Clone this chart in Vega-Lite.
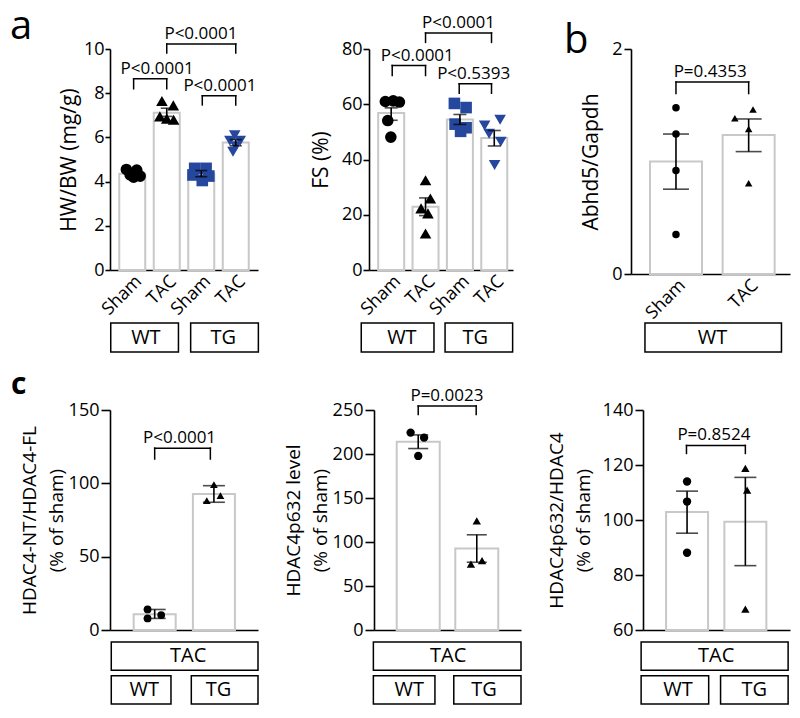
{
"$schema": "https://vega.github.io/schema/vega-lite/v6.json",
"padding": {"left": 10, "top": 6, "right": 5, "bottom": 5},
"config": {
  "font": "Open Sans",
  "view": {"stroke": null},
  "axis": {"labelFont": "Open Sans", "titleFont": "Open Sans", "labelFontSize": 18, "titleFontSize": 19, "titleFontWeight": "normal", "labelColor": "black", "titleColor": "black", "domainColor": "black", "tickColor": "black", "domainWidth": 1.6, "tickWidth": 1.6, "grid": false},
  "title": {"font": "Open Sans", "fontWeight": "normal", "color": "black"},
  "text": {"font": "Open Sans", "color": "black"}
},
"datasets": {
  "bars": [
    {"p": "a1", "x": 1, "mean": 4.36, "lo": 4.27, "hi": 4.45},
    {"p": "a1", "x": 2, "mean": 7.12, "lo": 6.95, "hi": 7.32},
    {"p": "a1", "x": 3, "mean": 4.36, "lo": 4.22, "hi": 4.5},
    {"p": "a1", "x": 4, "mean": 5.77, "lo": 5.62, "hi": 5.9},
    {"p": "a2", "x": 1, "mean": 56.8, "lo": 54.2, "hi": 58.7},
    {"p": "a2", "x": 2, "mean": 22.9, "lo": 19.7, "hi": 26.1},
    {"p": "a2", "x": 3, "mean": 54.5, "lo": 52.7, "hi": 56.3},
    {"p": "a2", "x": 4, "mean": 47.8, "lo": 44.9, "hi": 50.5},
    {"p": "b", "x": 1, "mean": 1.0, "lo": 0.754, "hi": 1.244},
    {"p": "b", "x": 2, "mean": 1.235, "lo": 1.088, "hi": 1.378},
    {"p": "c1", "x": 1, "mean": 10.7, "lo": 7.9, "hi": 14.0},
    {"p": "c1", "x": 2, "mean": 92.8, "lo": 87.1, "hi": 98.4},
    {"p": "c2", "x": 1, "mean": 214, "lo": 206.2, "hi": 221.7},
    {"p": "c2", "x": 2, "mean": 92.6, "lo": 77, "hi": 108.2},
    {"p": "c3", "x": 1, "mean": 102.9, "lo": 95.2, "hi": 110.5},
    {"p": "c3", "x": 2, "mean": 99.4, "lo": 83.4, "hi": 115.5}
  ],
  "pts": [
    {"p": "a1", "g": "WT Sham", "geno": "WT", "x": 0.83, "v": 4.55},
    {"p": "a1", "g": "WT Sham", "geno": "WT", "x": 1.13, "v": 4.52},
    {"p": "a1", "g": "WT Sham", "geno": "WT", "x": 0.94, "v": 4.3},
    {"p": "a1", "g": "WT Sham", "geno": "WT", "x": 1.04, "v": 4.2},
    {"p": "a1", "g": "WT Sham", "geno": "WT", "x": 1.23, "v": 4.25},
    {"p": "a1", "g": "WT TAC", "geno": "WT", "x": 1.86, "v": 7.65},
    {"p": "a1", "g": "WT TAC", "geno": "WT", "x": 2.19, "v": 7.45},
    {"p": "a1", "g": "WT TAC", "geno": "WT", "x": 1.8, "v": 6.95},
    {"p": "a1", "g": "WT TAC", "geno": "WT", "x": 2.0, "v": 6.85},
    {"p": "a1", "g": "WT TAC", "geno": "WT", "x": 2.2, "v": 6.8},
    {"p": "a1", "g": "TG Sham", "geno": "TG", "x": 2.81, "v": 4.6},
    {"p": "a1", "g": "TG Sham", "geno": "TG", "x": 3.14, "v": 4.6},
    {"p": "a1", "g": "TG Sham", "geno": "TG", "x": 2.76, "v": 4.3},
    {"p": "a1", "g": "TG Sham", "geno": "TG", "x": 3.03, "v": 4.05},
    {"p": "a1", "g": "TG Sham", "geno": "TG", "x": 3.22, "v": 4.25},
    {"p": "a1", "g": "TG TAC", "geno": "TG", "x": 3.97, "v": 6.1},
    {"p": "a1", "g": "TG TAC", "geno": "TG", "x": 3.83, "v": 5.85},
    {"p": "a1", "g": "TG TAC", "geno": "TG", "x": 4.13, "v": 5.85},
    {"p": "a1", "g": "TG TAC", "geno": "TG", "x": 4.0, "v": 5.6},
    {"p": "a1", "g": "TG TAC", "geno": "TG", "x": 3.92, "v": 5.35},
    {"p": "a2", "g": "WT Sham", "geno": "WT", "x": 0.83, "v": 61},
    {"p": "a2", "g": "WT Sham", "geno": "WT", "x": 1.06, "v": 61.2},
    {"p": "a2", "g": "WT Sham", "geno": "WT", "x": 1.24, "v": 60.8},
    {"p": "a2", "g": "WT Sham", "geno": "WT", "x": 0.9, "v": 54.1},
    {"p": "a2", "g": "WT Sham", "geno": "WT", "x": 0.99, "v": 48.1},
    {"p": "a2", "g": "WT TAC", "geno": "WT", "x": 2.0, "v": 32.5},
    {"p": "a2", "g": "WT TAC", "geno": "WT", "x": 2.14, "v": 25.9},
    {"p": "a2", "g": "WT TAC", "geno": "WT", "x": 1.87, "v": 22.3},
    {"p": "a2", "g": "WT TAC", "geno": "WT", "x": 2.07, "v": 20.5},
    {"p": "a2", "g": "WT TAC", "geno": "WT", "x": 2.0, "v": 13.2},
    {"p": "a2", "g": "TG Sham", "geno": "TG", "x": 2.84, "v": 60.3},
    {"p": "a2", "g": "TG Sham", "geno": "TG", "x": 3.18, "v": 58.8},
    {"p": "a2", "g": "TG Sham", "geno": "TG", "x": 2.86, "v": 52.8},
    {"p": "a2", "g": "TG Sham", "geno": "TG", "x": 3.02, "v": 50.2},
    {"p": "a2", "g": "TG Sham", "geno": "TG", "x": 3.18, "v": 51.5},
    {"p": "a2", "g": "TG TAC", "geno": "TG", "x": 3.72, "v": 52.3},
    {"p": "a2", "g": "TG TAC", "geno": "TG", "x": 3.85, "v": 49.3},
    {"p": "a2", "g": "TG TAC", "geno": "TG", "x": 4.17, "v": 54.4},
    {"p": "a2", "g": "TG TAC", "geno": "TG", "x": 4.19, "v": 46.4},
    {"p": "a2", "g": "TG TAC", "geno": "TG", "x": 4.01, "v": 38},
    {"p": "b", "g": "WT Sham", "geno": "WT", "x": 1, "v": 1.477},
    {"p": "b", "g": "WT Sham", "geno": "WT", "x": 1, "v": 1.244},
    {"p": "b", "g": "WT Sham", "geno": "WT", "x": 1, "v": 0.921},
    {"p": "b", "g": "WT Sham", "geno": "WT", "x": 1, "v": 0.352},
    {"p": "b", "g": "WT TAC", "geno": "WT", "x": 1.81, "v": 1.384},
    {"p": "b", "g": "WT TAC", "geno": "WT", "x": 2.06, "v": 1.463},
    {"p": "b", "g": "WT TAC", "geno": "WT", "x": 2.0, "v": 1.288},
    {"p": "b", "g": "WT TAC", "geno": "WT", "x": 2.0, "v": 0.806},
    {"p": "c1", "g": "WT TAC", "geno": "WT", "x": 0.88, "v": 14},
    {"p": "c1", "g": "WT TAC", "geno": "WT", "x": 0.88, "v": 7.9},
    {"p": "c1", "g": "WT TAC", "geno": "WT", "x": 1.11, "v": 10.2},
    {"p": "c1", "g": "TG TAC", "geno": "TG", "x": 2.0, "v": 99.1},
    {"p": "c1", "g": "TG TAC", "geno": "TG", "x": 1.88, "v": 88.2},
    {"p": "c1", "g": "TG TAC", "geno": "TG", "x": 2.11, "v": 91.6},
    {"p": "c2", "g": "WT TAC", "geno": "WT", "x": 0.87, "v": 224.3},
    {"p": "c2", "g": "WT TAC", "geno": "WT", "x": 1.1, "v": 218.6},
    {"p": "c2", "g": "WT TAC", "geno": "WT", "x": 1.0, "v": 197.8},
    {"p": "c2", "g": "TG TAC", "geno": "TG", "x": 2.0, "v": 124},
    {"p": "c2", "g": "TG TAC", "geno": "TG", "x": 1.9, "v": 74.9},
    {"p": "c2", "g": "TG TAC", "geno": "TG", "x": 2.09, "v": 78.7},
    {"p": "c3", "g": "WT TAC", "geno": "WT", "x": 1.0, "v": 114},
    {"p": "c3", "g": "WT TAC", "geno": "WT", "x": 1.0, "v": 106.7},
    {"p": "c3", "g": "WT TAC", "geno": "WT", "x": 1.0, "v": 88.1},
    {"p": "c3", "g": "TG TAC", "geno": "TG", "x": 2.0, "v": 118.8},
    {"p": "c3", "g": "TG TAC", "geno": "TG", "x": 2.03, "v": 110.9},
    {"p": "c3", "g": "TG TAC", "geno": "TG", "x": 2.0, "v": 67.6}
  ],
  "brk": [
    {"p": "a1", "s": 1.04, "e": 2.0, "top": 8.65, "base": 8.2, "tx": 1.72, "label": "P<0.0001"},
    {"p": "a1", "s": 2.0, "e": 4.0, "top": 10.23, "base": 9.82, "tx": 2.99, "label": "P<0.0001"},
    {"p": "a1", "s": 3.03, "e": 4.0, "top": 7.88, "base": 7.47, "tx": 3.54, "label": "P<0.0001"},
    {"p": "a2", "s": 1.03, "e": 2.0, "top": 74, "base": 70.4, "tx": 1.76, "label": "P<0.0001"},
    {"p": "a2", "s": 2.0, "e": 3.92, "top": 85.8, "base": 82.4, "tx": 2.96, "label": "P<0.0001"},
    {"p": "a2", "s": 2.98, "e": 3.92, "top": 67.4, "base": 64, "tx": 3.4, "label": "P<0.5393"},
    {"p": "b", "s": 1.0, "e": 2.0, "top": 1.707, "base": 1.604, "tx": 1.47, "label": "P=0.4353"},
    {"p": "c1", "s": 1.0, "e": 1.94, "top": 124, "base": 116.6, "tx": 1.42, "label": "P<0.0001"},
    {"p": "c2", "s": 1.0, "e": 1.99, "top": 254.5, "base": 245, "tx": 1.49, "label": "P=0.0023"},
    {"p": "c3", "s": 0.99, "e": 2.0, "top": 127.1, "base": 124.2, "tx": 1.46, "label": "P=0.8524"}
  ],
  "box": [
    {"p": "a1", "r": "r1", "s": 0.52, "e": 2.35, "m": 1.47, "label": "WT"},
    {"p": "a1", "r": "r1", "s": 2.68, "e": 4.51, "m": 3.56, "label": "TG"},
    {"p": "a2", "r": "r1", "s": 0.29, "e": 2.26, "m": 1.39, "label": "WT"},
    {"p": "a2", "r": "r1", "s": 2.56, "e": 4.39, "m": 3.38, "label": "TG"},
    {"p": "b", "r": "r1", "s": 0.63, "e": 2.39, "m": 1.5, "label": "WT"},
    {"p": "c1", "r": "r1", "s": 0.35, "e": 2.66, "m": 1.56, "label": "TAC"},
    {"p": "c1", "r": "r2", "s": 0.35, "e": 1.29, "m": 0.87, "label": "WT"},
    {"p": "c1", "r": "r2", "s": 1.61, "e": 2.66, "m": 2.04, "label": "TG"},
    {"p": "c2", "r": "r1", "s": 0.32, "e": 2.67, "m": 1.51, "label": "TAC"},
    {"p": "c2", "r": "r2", "s": 0.32, "e": 1.3, "m": 0.89, "label": "WT"},
    {"p": "c2", "r": "r2", "s": 1.6, "e": 2.67, "m": 2.08, "label": "TG"},
    {"p": "c3", "r": "r1", "s": 0.3, "e": 2.65, "m": 1.5, "label": "TAC"},
    {"p": "c3", "r": "r2", "s": 0.3, "e": 1.38, "m": 0.89, "label": "WT"},
    {"p": "c3", "r": "r2", "s": 1.57, "e": 2.65, "m": 2.11, "label": "TG"}
  ]
},
"resolve": {"scale": {"x": "independent", "y": "independent", "shape": "independent", "color": "independent"}},
"spacing": 17,
"vconcat": [
{
  "columns": 3,
  "align": "each",
  "spacing": {"row": -9, "column": 50},
  "resolve": {"scale": {"x": "independent", "y": "independent", "shape": "independent", "color": "independent"}},
  "concat": [
    {
      "width": 148, "height": 221,
      "title": {"text": "a", "anchor": "start", "frame": "group", "fontSize": 40, "dx": -100, "offset": -54, "baseline": "alphabetic"},
      "layer": [
        {"data": {"name": "bars"}, "transform": [{"filter": "datum.p === 'a1'"}],
         "mark": {"type": "bar", "orient": "vertical", "width": 26, "fill": "white", "stroke": "#c8c8c8", "strokeWidth": 2},
         "encoding": {
           "x": {"field": "x", "type": "quantitative", "scale": {"domain": [0.5, 4.5], "nice": false, "zero": false},
                 "axis": {"values": [1, 2, 3, 4], "labelExpr": "datum.value % 2 === 1 ? 'Sham' : 'TAC'", "labelAngle": -45, "labelAlign": "right", "labelBaseline": "top", "labelPadding": 2, "labelDx": 8, "labelDy": 8, "ticks": false, "title": null, "labelOverlap": false, "labelFlush": false, "labelBound": false}},
           "y": {"field": "mean", "type": "quantitative", "scale": {"domain": [0, 10], "nice": false, "zero": false},
                 "axis": {"title": "HW/BW (mg/g)", "titleFontSize": 21, "values": [0, 2, 4, 6, 8, 10], "tickSize": 5, "labelPadding": 1, "titlePadding": 4}},
           "y2": {"datum": 0}}},
        {"data": {"name": "pts"}, "transform": [{"filter": "datum.p === 'a1'"}],
         "mark": {"type": "point", "filled": true, "opacity": 1, "size": 135},
         "encoding": {
           "x": {"field": "x", "type": "quantitative"},
           "y": {"field": "v", "type": "quantitative"},
           "shape": {"field": "g", "type": "nominal", "scale": {"domain": ["WT Sham", "WT TAC", "TG Sham", "TG TAC"], "range": ["circle", "triangle-up", "square", "triangle-down"]}, "legend": null},
           "color": {"field": "geno", "type": "nominal", "scale": {"domain": ["WT", "TG"], "range": ["#000000", "#25479d"]}, "legend": null}}},
        {"data": {"name": "bars"}, "transform": [{"filter": "datum.p === 'a1'"}],
         "encoding": {"x": {"field": "x", "type": "quantitative"}},
         "layer": [
           {"mark": {"type": "rule", "color": "black", "strokeWidth": 1.6}, "encoding": {"y": {"field": "lo", "type": "quantitative"}, "y2": {"field": "hi"}}},
           {"mark": {"type": "tick", "orient": "horizontal", "color": "black", "size": 12, "thickness": 1.6}, "encoding": {"y": {"field": "lo", "type": "quantitative"}}},
           {"mark": {"type": "tick", "orient": "horizontal", "color": "black", "size": 12, "thickness": 1.6}, "encoding": {"y": {"field": "hi", "type": "quantitative"}}}
         ]},
        {"data": {"name": "brk"}, "transform": [{"filter": "datum.p === 'a1'"}],
         "layer": [
           {"mark": {"type": "rule", "color": "black", "strokeWidth": 1.5, "strokeCap": "square"}, "encoding": {"x": {"field": "s", "type": "quantitative"}, "x2": {"field": "e"}, "y": {"field": "top", "type": "quantitative"}}},
           {"mark": {"type": "rule", "color": "black", "strokeWidth": 1.5, "strokeCap": "square"}, "encoding": {"x": {"field": "s", "type": "quantitative"}, "y": {"field": "base", "type": "quantitative"}, "y2": {"field": "top"}}},
           {"mark": {"type": "rule", "color": "black", "strokeWidth": 1.5, "strokeCap": "square"}, "encoding": {"x": {"field": "e", "type": "quantitative"}, "y": {"field": "base", "type": "quantitative"}, "y2": {"field": "top"}}},
           {"mark": {"type": "text", "fontSize": 17, "baseline": "alphabetic", "dy": -5}, "encoding": {"x": {"field": "tx", "type": "quantitative"}, "y": {"field": "top", "type": "quantitative"}, "text": {"field": "label"}}}
         ]}
      ]
    },
    {
      "width": 144, "height": 221,
      "layer": [
        {"data": {"name": "bars"}, "transform": [{"filter": "datum.p === 'a2'"}],
         "mark": {"type": "bar", "orient": "vertical", "width": 26, "fill": "white", "stroke": "#c8c8c8", "strokeWidth": 2},
         "encoding": {
           "x": {"field": "x", "type": "quantitative", "scale": {"domain": [0.5, 4.4], "nice": false, "zero": false},
                 "axis": {"values": [1, 2, 3, 4], "labelExpr": "datum.value % 2 === 1 ? 'Sham' : 'TAC'", "labelAngle": -45, "labelAlign": "right", "labelBaseline": "top", "labelPadding": 2, "labelDx": 8, "labelDy": 8, "ticks": false, "title": null, "labelOverlap": false, "labelFlush": false, "labelBound": false}},
           "y": {"field": "mean", "type": "quantitative", "scale": {"domain": [0, 80], "nice": false, "zero": false},
                 "axis": {"title": "FS (%)", "titleFontSize": 21, "values": [0, 20, 40, 60, 80], "tickSize": 6, "labelPadding": 1, "titlePadding": 10}},
           "y2": {"datum": 0}}},
        {"data": {"name": "pts"}, "transform": [{"filter": "datum.p === 'a2'"}],
         "mark": {"type": "point", "filled": true, "opacity": 1, "size": 135},
         "encoding": {
           "x": {"field": "x", "type": "quantitative"},
           "y": {"field": "v", "type": "quantitative"},
           "shape": {"field": "g", "type": "nominal", "scale": {"domain": ["WT Sham", "WT TAC", "TG Sham", "TG TAC"], "range": ["circle", "triangle-up", "square", "triangle-down"]}, "legend": null},
           "color": {"field": "geno", "type": "nominal", "scale": {"domain": ["WT", "TG"], "range": ["#000000", "#25479d"]}, "legend": null}}},
        {"data": {"name": "bars"}, "transform": [{"filter": "datum.p === 'a2'"}],
         "encoding": {"x": {"field": "x", "type": "quantitative"}},
         "layer": [
           {"mark": {"type": "rule", "color": "black", "strokeWidth": 1.6}, "encoding": {"y": {"field": "lo", "type": "quantitative"}, "y2": {"field": "hi"}}},
           {"mark": {"type": "tick", "orient": "horizontal", "color": "black", "size": 13, "thickness": 1.6}, "encoding": {"y": {"field": "lo", "type": "quantitative"}}},
           {"mark": {"type": "tick", "orient": "horizontal", "color": "black", "size": 13, "thickness": 1.6}, "encoding": {"y": {"field": "hi", "type": "quantitative"}}}
         ]},
        {"data": {"name": "brk"}, "transform": [{"filter": "datum.p === 'a2'"}],
         "layer": [
           {"mark": {"type": "rule", "color": "black", "strokeWidth": 1.5, "strokeCap": "square"}, "encoding": {"x": {"field": "s", "type": "quantitative"}, "x2": {"field": "e"}, "y": {"field": "top", "type": "quantitative"}}},
           {"mark": {"type": "rule", "color": "black", "strokeWidth": 1.5, "strokeCap": "square"}, "encoding": {"x": {"field": "s", "type": "quantitative"}, "y": {"field": "base", "type": "quantitative"}, "y2": {"field": "top"}}},
           {"mark": {"type": "rule", "color": "black", "strokeWidth": 1.5, "strokeCap": "square"}, "encoding": {"x": {"field": "e", "type": "quantitative"}, "y": {"field": "base", "type": "quantitative"}, "y2": {"field": "top"}}},
           {"mark": {"type": "text", "fontSize": 17, "baseline": "alphabetic", "dy": -5}, "encoding": {"x": {"field": "tx", "type": "quantitative"}, "y": {"field": "top", "type": "quantitative"}, "text": {"field": "label"}}}
         ]}
      ]
    },
    {
      "width": 159, "height": 225,
      "title": {"text": "b", "anchor": "start", "frame": "group", "fontSize": 40, "dx": -67, "offset": -53, "baseline": "alphabetic"},
      "layer": [
        {"data": {"name": "bars"}, "transform": [{"filter": "datum.p === 'b'"}],
         "mark": {"type": "bar", "orient": "vertical", "width": 52, "fill": "white", "stroke": "#c8c8c8", "strokeWidth": 2},
         "encoding": {
           "x": {"field": "x", "type": "quantitative", "scale": {"domain": [0.45, 2.5], "nice": false, "zero": false},
                 "axis": {"values": [1, 2], "labelExpr": "datum.value % 2 === 1 ? 'Sham' : 'TAC'", "labelAngle": -45, "labelAlign": "right", "labelBaseline": "top", "labelPadding": 2, "labelDx": 8, "labelDy": 8, "ticks": false, "title": null, "labelOverlap": false, "labelFlush": false, "labelBound": false}},
           "y": {"field": "mean", "type": "quantitative", "scale": {"domain": [0, 2], "nice": false, "zero": false},
                 "axis": {"title": "Abhd5/Gapdh", "titleFontSize": 21, "format": "d", "values": [0, 1, 2], "tickSize": 7, "labelPadding": 2, "titlePadding": 10}},
           "y2": {"datum": 0}}},
        {"data": {"name": "pts"}, "transform": [{"filter": "datum.p === 'b'"}],
         "mark": {"type": "point", "filled": true, "opacity": 1, "size": 56, "color": "black"},
         "encoding": {
           "x": {"field": "x", "type": "quantitative"},
           "y": {"field": "v", "type": "quantitative"},
           "shape": {"field": "g", "type": "nominal", "scale": {"domain": ["WT Sham", "WT TAC"], "range": ["circle", "triangle-up"]}, "legend": null}}},
        {"data": {"name": "bars"}, "transform": [{"filter": "datum.p === 'b'"}],
         "encoding": {"x": {"field": "x", "type": "quantitative"}},
         "layer": [
           {"mark": {"type": "rule", "color": "black", "strokeWidth": 1.6}, "encoding": {"y": {"field": "lo", "type": "quantitative"}, "y2": {"field": "hi"}}},
           {"mark": {"type": "tick", "orient": "horizontal", "color": "black", "size": 26, "thickness": 1.6}, "encoding": {"y": {"field": "lo", "type": "quantitative"}}},
           {"mark": {"type": "tick", "orient": "horizontal", "color": "black", "size": 26, "thickness": 1.6}, "encoding": {"y": {"field": "hi", "type": "quantitative"}}}
         ]},
        {"data": {"name": "brk"}, "transform": [{"filter": "datum.p === 'b'"}],
         "layer": [
           {"mark": {"type": "rule", "color": "black", "strokeWidth": 1.5, "strokeCap": "square"}, "encoding": {"x": {"field": "s", "type": "quantitative"}, "x2": {"field": "e"}, "y": {"field": "top", "type": "quantitative"}}},
           {"mark": {"type": "rule", "color": "black", "strokeWidth": 1.5, "strokeCap": "square"}, "encoding": {"x": {"field": "s", "type": "quantitative"}, "y": {"field": "base", "type": "quantitative"}, "y2": {"field": "top"}}},
           {"mark": {"type": "rule", "color": "black", "strokeWidth": 1.5, "strokeCap": "square"}, "encoding": {"x": {"field": "e", "type": "quantitative"}, "y": {"field": "base", "type": "quantitative"}, "y2": {"field": "top"}}},
           {"mark": {"type": "text", "fontSize": 17, "baseline": "alphabetic", "dy": -5}, "encoding": {"x": {"field": "tx", "type": "quantitative"}, "y": {"field": "top", "type": "quantitative"}, "text": {"field": "label"}}}
         ]}
      ]
    },
    {
      "width": 148, "height": 29,
      "data": {"name": "box"}, "transform": [{"filter": "datum.p === 'a1'"}],
      "encoding": {"y": {"field": "r", "type": "nominal", "scale": {"domain": ["r1"], "paddingInner": 0, "paddingOuter": 0}, "axis": null}},
      "layer": [
        {"mark": {"type": "rect", "fill": "white", "stroke": "black", "strokeWidth": 1.5}, "encoding": {"x": {"field": "s", "type": "quantitative", "scale": {"domain": [0.5, 4.5], "nice": false, "zero": false}, "axis": null}, "x2": {"field": "e"}}},
        {"mark": {"type": "text", "fontSize": 20}, "encoding": {"x": {"field": "m", "type": "quantitative", "axis": null}, "text": {"field": "label"}}}
      ]
    },
    {
      "width": 144, "height": 29,
      "data": {"name": "box"}, "transform": [{"filter": "datum.p === 'a2'"}],
      "encoding": {"y": {"field": "r", "type": "nominal", "scale": {"domain": ["r1"], "paddingInner": 0, "paddingOuter": 0}, "axis": null}},
      "layer": [
        {"mark": {"type": "rect", "fill": "white", "stroke": "black", "strokeWidth": 1.5}, "encoding": {"x": {"field": "s", "type": "quantitative", "scale": {"domain": [0.5, 4.4], "nice": false, "zero": false}, "axis": null}, "x2": {"field": "e"}}},
        {"mark": {"type": "text", "fontSize": 20}, "encoding": {"x": {"field": "m", "type": "quantitative", "axis": null}, "text": {"field": "label"}}}
      ]
    },
    {
      "width": 159, "height": 29,
      "data": {"name": "box"}, "transform": [{"filter": "datum.p === 'b'"}],
      "encoding": {"y": {"field": "r", "type": "nominal", "scale": {"domain": ["r1"], "paddingInner": 0, "paddingOuter": 0}, "axis": null}},
      "layer": [
        {"mark": {"type": "rect", "fill": "white", "stroke": "black", "strokeWidth": 1.5}, "encoding": {"x": {"field": "s", "type": "quantitative", "scale": {"domain": [0.45, 2.5], "nice": false, "zero": false}, "axis": null}, "x2": {"field": "e"}}},
        {"mark": {"type": "text", "fontSize": 20}, "encoding": {"x": {"field": "m", "type": "quantitative", "axis": null}, "text": {"field": "label"}}}
      ]
    }
  ]
},
{
  "columns": 3,
  "align": "each",
  "spacing": {"row": 2, "column": 25},
  "resolve": {"scale": {"x": "independent", "y": "independent", "shape": "independent", "color": "independent"}},
  "concat": [
    {
      "width": 148, "height": 220,
      "title": {"text": "c", "anchor": "start", "frame": "group", "fontSize": 30, "fontWeight": "bold", "dx": -99, "offset": -23, "baseline": "alphabetic"},
      "layer": [
        {"data": {"name": "bars"}, "transform": [{"filter": "datum.p === 'c1'"}],
         "mark": {"type": "bar", "orient": "vertical", "width": 42, "fill": "white", "stroke": "#c8c8c8", "strokeWidth": 2},
         "encoding": {
           "x": {"field": "x", "type": "quantitative", "scale": {"domain": [0.33, 2.66], "nice": false, "zero": false},
                 "axis": {"labels": false, "ticks": false, "title": null}},
           "y": {"field": "mean", "type": "quantitative", "scale": {"domain": [0, 150], "nice": false, "zero": false},
                 "axis": {"title": ["HDAC4-NT/HDAC4-FL", "(% of sham)"], "titleLineHeight": 27, "values": [0, 50, 100, 150], "tickSize": 9, "labelPadding": 2, "titlePadding": 2}},
           "y2": {"datum": 0}}},
        {"data": {"name": "pts"}, "transform": [{"filter": "datum.p === 'c1'"}],
         "mark": {"type": "point", "filled": true, "opacity": 1, "size": 60, "color": "black"},
         "encoding": {
           "x": {"field": "x", "type": "quantitative"},
           "y": {"field": "v", "type": "quantitative"},
           "shape": {"field": "g", "type": "nominal", "scale": {"domain": ["WT TAC", "TG TAC"], "range": ["circle", "triangle-up"]}, "legend": null}}},
        {"data": {"name": "bars"}, "transform": [{"filter": "datum.p === 'c1'"}],
         "encoding": {"x": {"field": "x", "type": "quantitative"}},
         "layer": [
           {"mark": {"type": "rule", "color": "black", "strokeWidth": 1.6}, "encoding": {"y": {"field": "lo", "type": "quantitative"}, "y2": {"field": "hi"}}},
           {"mark": {"type": "tick", "orient": "horizontal", "color": "black", "size": 22, "thickness": 1.6}, "encoding": {"y": {"field": "lo", "type": "quantitative"}}},
           {"mark": {"type": "tick", "orient": "horizontal", "color": "black", "size": 22, "thickness": 1.6}, "encoding": {"y": {"field": "hi", "type": "quantitative"}}}
         ]},
        {"data": {"name": "brk"}, "transform": [{"filter": "datum.p === 'c1'"}],
         "layer": [
           {"mark": {"type": "rule", "color": "black", "strokeWidth": 1.5, "strokeCap": "square"}, "encoding": {"x": {"field": "s", "type": "quantitative"}, "x2": {"field": "e"}, "y": {"field": "top", "type": "quantitative"}}},
           {"mark": {"type": "rule", "color": "black", "strokeWidth": 1.5, "strokeCap": "square"}, "encoding": {"x": {"field": "s", "type": "quantitative"}, "y": {"field": "base", "type": "quantitative"}, "y2": {"field": "top"}}},
           {"mark": {"type": "rule", "color": "black", "strokeWidth": 1.5, "strokeCap": "square"}, "encoding": {"x": {"field": "e", "type": "quantitative"}, "y": {"field": "base", "type": "quantitative"}, "y2": {"field": "top"}}},
           {"mark": {"type": "text", "fontSize": 17, "baseline": "alphabetic", "dy": -5}, "encoding": {"x": {"field": "tx", "type": "quantitative"}, "y": {"field": "top", "type": "quantitative"}, "text": {"field": "label"}}}
         ]}
      ]
    },
    {
      "width": 147, "height": 220,
      "layer": [
        {"data": {"name": "bars"}, "transform": [{"filter": "datum.p === 'c2'"}],
         "mark": {"type": "bar", "orient": "vertical", "width": 43, "fill": "white", "stroke": "#c8c8c8", "strokeWidth": 2},
         "encoding": {
           "x": {"field": "x", "type": "quantitative", "scale": {"domain": [0.33, 2.67], "nice": false, "zero": false},
                 "axis": {"labels": false, "ticks": false, "title": null}},
           "y": {"field": "mean", "type": "quantitative", "scale": {"domain": [0, 250], "nice": false, "zero": false},
                 "axis": {"title": ["HDAC4p632 level", "(% of sham)"], "titleLineHeight": 27, "values": [0, 50, 100, 150, 200, 250], "tickSize": 9, "labelPadding": 2, "titlePadding": 2}},
           "y2": {"datum": 0}}},
        {"data": {"name": "pts"}, "transform": [{"filter": "datum.p === 'c2'"}],
         "mark": {"type": "point", "filled": true, "opacity": 1, "size": 70, "color": "black"},
         "encoding": {
           "x": {"field": "x", "type": "quantitative"},
           "y": {"field": "v", "type": "quantitative"},
           "shape": {"field": "g", "type": "nominal", "scale": {"domain": ["WT TAC", "TG TAC"], "range": ["circle", "triangle-up"]}, "legend": null}}},
        {"data": {"name": "bars"}, "transform": [{"filter": "datum.p === 'c2'"}],
         "encoding": {"x": {"field": "x", "type": "quantitative"}},
         "layer": [
           {"mark": {"type": "rule", "color": "black", "strokeWidth": 1.6}, "encoding": {"y": {"field": "lo", "type": "quantitative"}, "y2": {"field": "hi"}}},
           {"mark": {"type": "tick", "orient": "horizontal", "color": "black", "size": 20, "thickness": 1.6}, "encoding": {"y": {"field": "lo", "type": "quantitative"}}},
           {"mark": {"type": "tick", "orient": "horizontal", "color": "black", "size": 20, "thickness": 1.6}, "encoding": {"y": {"field": "hi", "type": "quantitative"}}}
         ]},
        {"data": {"name": "brk"}, "transform": [{"filter": "datum.p === 'c2'"}],
         "layer": [
           {"mark": {"type": "rule", "color": "black", "strokeWidth": 1.5, "strokeCap": "square"}, "encoding": {"x": {"field": "s", "type": "quantitative"}, "x2": {"field": "e"}, "y": {"field": "top", "type": "quantitative"}}},
           {"mark": {"type": "rule", "color": "black", "strokeWidth": 1.5, "strokeCap": "square"}, "encoding": {"x": {"field": "s", "type": "quantitative"}, "y": {"field": "base", "type": "quantitative"}, "y2": {"field": "top"}}},
           {"mark": {"type": "rule", "color": "black", "strokeWidth": 1.5, "strokeCap": "square"}, "encoding": {"x": {"field": "e", "type": "quantitative"}, "y": {"field": "base", "type": "quantitative"}, "y2": {"field": "top"}}},
           {"mark": {"type": "text", "fontSize": 17, "baseline": "alphabetic", "dy": -5}, "encoding": {"x": {"field": "tx", "type": "quantitative"}, "y": {"field": "top", "type": "quantitative"}, "text": {"field": "label"}}}
         ]}
      ]
    },
    {
      "width": 147, "height": 220,
      "layer": [
        {"data": {"name": "bars"}, "transform": [{"filter": "datum.p === 'c3'"}],
         "mark": {"type": "bar", "orient": "vertical", "width": 42, "fill": "white", "stroke": "#c8c8c8", "strokeWidth": 2},
         "encoding": {
           "x": {"field": "x", "type": "quantitative", "scale": {"domain": [0.33, 2.68], "nice": false, "zero": false},
                 "axis": {"labels": false, "ticks": false, "title": null}},
           "y": {"field": "mean", "type": "quantitative", "scale": {"domain": [60, 140], "nice": false, "zero": false},
                 "axis": {"title": ["HDAC4p632/HDAC4", "(% of sham)"], "titleLineHeight": 27, "values": [60, 80, 100, 120, 140], "tickSize": 8, "labelPadding": 2, "titlePadding": 9}},
           "y2": {"datum": 60}}},
        {"data": {"name": "pts"}, "transform": [{"filter": "datum.p === 'c3'"}],
         "mark": {"type": "point", "filled": true, "opacity": 1, "size": 70, "color": "black"},
         "encoding": {
           "x": {"field": "x", "type": "quantitative"},
           "y": {"field": "v", "type": "quantitative"},
           "shape": {"field": "g", "type": "nominal", "scale": {"domain": ["WT TAC", "TG TAC"], "range": ["circle", "triangle-up"]}, "legend": null}}},
        {"data": {"name": "bars"}, "transform": [{"filter": "datum.p === 'c3'"}],
         "encoding": {"x": {"field": "x", "type": "quantitative"}},
         "layer": [
           {"mark": {"type": "rule", "color": "black", "strokeWidth": 1.6}, "encoding": {"y": {"field": "lo", "type": "quantitative"}, "y2": {"field": "hi"}}},
           {"mark": {"type": "tick", "orient": "horizontal", "color": "black", "size": 22, "thickness": 1.6}, "encoding": {"y": {"field": "lo", "type": "quantitative"}}},
           {"mark": {"type": "tick", "orient": "horizontal", "color": "black", "size": 22, "thickness": 1.6}, "encoding": {"y": {"field": "hi", "type": "quantitative"}}}
         ]},
        {"data": {"name": "brk"}, "transform": [{"filter": "datum.p === 'c3'"}],
         "layer": [
           {"mark": {"type": "rule", "color": "black", "strokeWidth": 1.5, "strokeCap": "square"}, "encoding": {"x": {"field": "s", "type": "quantitative"}, "x2": {"field": "e"}, "y": {"field": "top", "type": "quantitative"}}},
           {"mark": {"type": "rule", "color": "black", "strokeWidth": 1.5, "strokeCap": "square"}, "encoding": {"x": {"field": "s", "type": "quantitative"}, "y": {"field": "base", "type": "quantitative"}, "y2": {"field": "top"}}},
           {"mark": {"type": "rule", "color": "black", "strokeWidth": 1.5, "strokeCap": "square"}, "encoding": {"x": {"field": "e", "type": "quantitative"}, "y": {"field": "base", "type": "quantitative"}, "y2": {"field": "top"}}},
           {"mark": {"type": "text", "fontSize": 17, "baseline": "alphabetic", "dy": -5}, "encoding": {"x": {"field": "tx", "type": "quantitative"}, "y": {"field": "top", "type": "quantitative"}, "text": {"field": "label"}}}
         ]}
      ]
    },
    {
      "width": 148, "height": 62,
      "data": {"name": "box"}, "transform": [{"filter": "datum.p === 'c1'"}],
      "encoding": {"y": {"field": "r", "type": "nominal", "scale": {"domain": ["r1", "r2"], "paddingInner": 0.16, "paddingOuter": 0}, "axis": null}},
      "layer": [
        {"mark": {"type": "rect", "fill": "white", "stroke": "black", "strokeWidth": 1.5}, "encoding": {"x": {"field": "s", "type": "quantitative", "scale": {"domain": [0.33, 2.66], "nice": false, "zero": false}, "axis": null}, "x2": {"field": "e"}}},
        {"mark": {"type": "text", "fontSize": 20}, "encoding": {"x": {"field": "m", "type": "quantitative", "axis": null}, "text": {"field": "label"}}}
      ]
    },
    {
      "width": 147, "height": 62,
      "data": {"name": "box"}, "transform": [{"filter": "datum.p === 'c2'"}],
      "encoding": {"y": {"field": "r", "type": "nominal", "scale": {"domain": ["r1", "r2"], "paddingInner": 0.16, "paddingOuter": 0}, "axis": null}},
      "layer": [
        {"mark": {"type": "rect", "fill": "white", "stroke": "black", "strokeWidth": 1.5}, "encoding": {"x": {"field": "s", "type": "quantitative", "scale": {"domain": [0.33, 2.67], "nice": false, "zero": false}, "axis": null}, "x2": {"field": "e"}}},
        {"mark": {"type": "text", "fontSize": 20}, "encoding": {"x": {"field": "m", "type": "quantitative", "axis": null}, "text": {"field": "label"}}}
      ]
    },
    {
      "width": 147, "height": 62,
      "data": {"name": "box"}, "transform": [{"filter": "datum.p === 'c3'"}],
      "encoding": {"y": {"field": "r", "type": "nominal", "scale": {"domain": ["r1", "r2"], "paddingInner": 0.16, "paddingOuter": 0}, "axis": null}},
      "layer": [
        {"mark": {"type": "rect", "fill": "white", "stroke": "black", "strokeWidth": 1.5}, "encoding": {"x": {"field": "s", "type": "quantitative", "scale": {"domain": [0.33, 2.68], "nice": false, "zero": false}, "axis": null}, "x2": {"field": "e"}}},
        {"mark": {"type": "text", "fontSize": 20}, "encoding": {"x": {"field": "m", "type": "quantitative", "axis": null}, "text": {"field": "label"}}}
      ]
    }
  ]
}
]
}
